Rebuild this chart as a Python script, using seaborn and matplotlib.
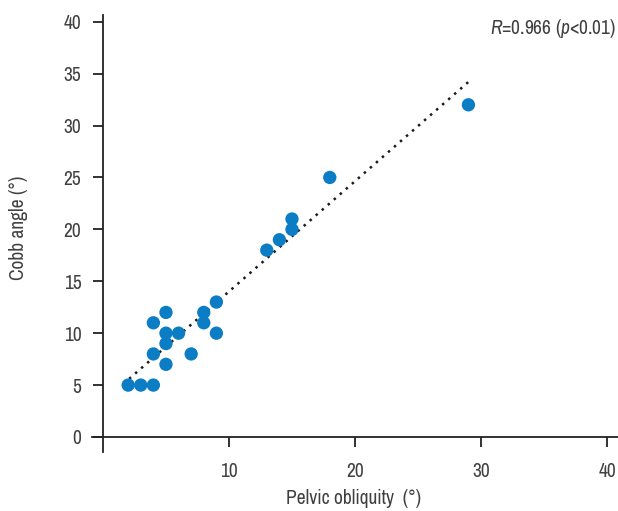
import numpy as np
import pandas as pd
import matplotlib
matplotlib.use("Agg")
import matplotlib.pyplot as plt
import seaborn as sns
from matplotlib import font_manager

# data
pelvic_obliquity = [2, 3, 4, 4, 4, 5, 5, 5, 5, 6, 7, 8, 8, 9, 9, 13, 14, 15, 15, 18, 29]
cobb_angle = [5, 5, 5, 8, 11, 12, 10, 9, 7, 10, 8, 11, 12, 13, 10, 18, 19, 20, 21, 25, 32]
x_ticks = [10, 20, 30, 40]
y_ticks = [0, 5, 10, 15, 20, 25, 30, 35, 40]
annotation_r = "0.966"

sns.set_theme(style="white")

# look for a narrow / condensed face
fam, stretch = "Liberation Sans", "normal"
for f in font_manager.fontManager.ttflist:
    n = f.name
    if "Narrow" in n or "Condensed" in n:
        fam, stretch = n, "normal"
        break
else:
    for f in font_manager.fontManager.ttflist:
        if str(f.stretch) in ("condensed", "semi-condensed") and f.style == "normal":
            fam, stretch = f.name, f.stretch
            break
plt.rcParams["font.family"] = [fam, "DejaVu Sans"]
plt.rcParams["font.stretch"] = stretch
plt.rcParams["mathtext.fontset"] = "custom"
plt.rcParams["mathtext.it"] = fam + ":italic"
plt.rcParams["mathtext.rm"] = fam
narrow = fam != "Liberation Sans" or stretch != "normal"
fs = 14 if narrow else 12.5
tc = "#404040"

df = pd.DataFrame({"x": pelvic_obliquity, "y": cobb_angle})

fig = plt.figure(figsize=(6.18, 5.11), dpi=100)
L, R, T, B = 92, 618, 15, 452
ax = fig.add_axes([L / 618, (511 - B) / 511, (R - L) / 618, (B - T) / 511])

# regression line (dotted)
coef = np.polyfit(df["x"], df["y"], 1)
xs = np.array([df["x"].min() - 0.4, df["x"].max()])
ax.plot(xs, np.polyval(coef, xs), linestyle=(0, (1, 2.2)), color="#1a1a1a", lw=1.8, zorder=2)

sns.scatterplot(data=df, x="x", y="y", ax=ax, color="#0a7dc4", s=92, edgecolor="none", zorder=3)

ax.set_xlim(-0.87, 40.87)
ax.set_ylim(-1.445, 40.65)
ax.spines["left"].set_position(("data", 0))
ax.spines["bottom"].set_position(("data", 0))
ax.spines["right"].set_visible(False)
ax.spines["top"].set_visible(False)
for s in ("left", "bottom"):
    ax.spines[s].set_color("#222222")
    ax.spines[s].set_linewidth(1.3)

ax.set_xticks(x_ticks)
ax.set_yticks(y_ticks)
ax.tick_params(axis="both", direction="out", length=7, width=1.3, color="#222222",
               labelsize=fs, labelcolor=tc, bottom=True, left=True)
ax.tick_params(axis="x", pad=11)
ax.tick_params(axis="y", pad=8.5)

ax.set_xlabel("")
ax.set_ylabel("")
fig.text(354 / 618, 1 - 498 / 511, "Pelvic obliquity  (°)", ha="center", va="center",
         fontsize=fs, color=tc)
fig.text(19 / 618, 1 - 228 / 511, "Cobb angle (°)", ha="center", va="center",
         rotation=90, fontsize=fs, color=tc)

fig.text(616 / 618, 1 - 28 / 511, r"$R$=" + annotation_r + r" ($p$<0.01)", ha="right",
         va="center", fontsize=fs, color=tc)

fig.savefig("out.png", dpi=100)
